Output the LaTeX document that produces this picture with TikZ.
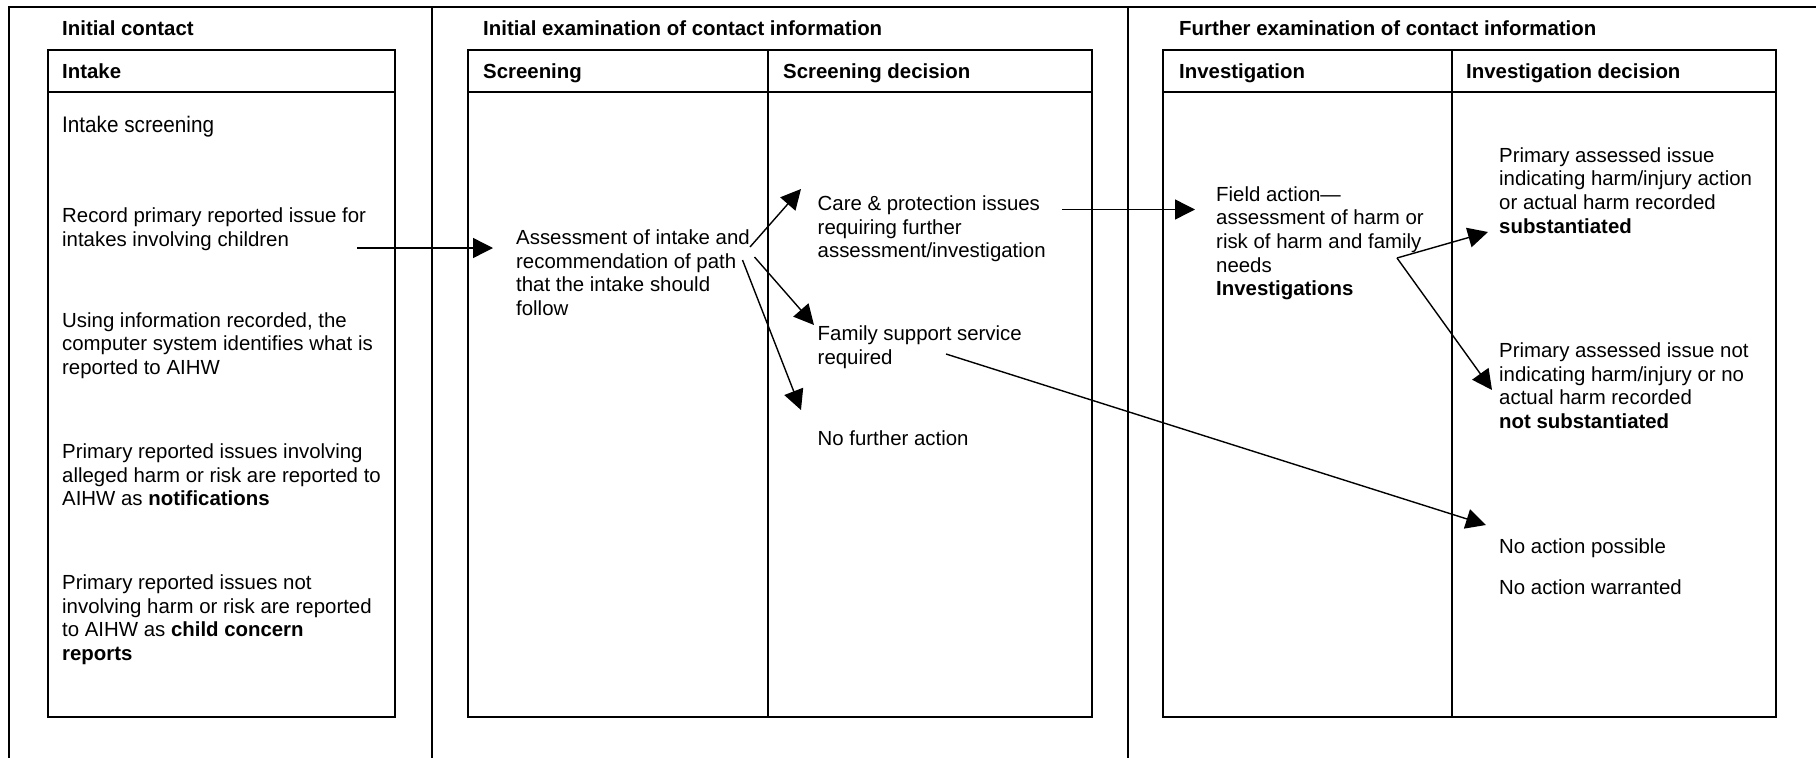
\documentclass[tikz,border=0pt]{standalone}
\usepackage{fontspec}
\setmainfont{Liberation Sans}
\newfontfamily\condensedfont[FakeStretch=0.92]{Liberation Sans}
\usetikzlibrary{arrows.meta}

\begin{document}
\begin{tikzpicture}[x=1pt,y=-1pt,
  frame/.style={line width=2pt},
  % multi-line texts: the base anchor sits on the last line
  txt/.style={inner sep=0pt, anchor=base west, align=left,
              font=\fontsize{20.4pt}{23.7pt}\selectfont},
  head/.style={txt, font=\fontsize{20.4pt}{23.7pt}\selectfont\bfseries},
  flow/.style={line width=1.4pt, -{Triangle[length=20pt,width=20pt]}}]
\useasboundingbox (0,0) rectangle (1816,758);

% stage frame and separators
\draw[frame] (9,758) -- (9,7) -- (1816,7);
\draw[frame] (432,7) -- (432,758);
\draw[frame] (1128,7) -- (1128,758);

% intake table
\draw[frame] (48,50) rectangle (395,717);
\draw[frame] (48,92) -- (395,92);
% screening table
\draw[frame] (468,50) rectangle (1092,717);
\draw[frame] (468,92) -- (1092,92);
\draw[frame] (768,50) -- (768,717);
% investigation table
\draw[frame] (1163,50) rectangle (1776,717);
\draw[frame] (1163,92) -- (1776,92);
\draw[frame] (1452,50) -- (1452,717);

% stage titles and column headings
\node[head] (stage1) at (62,35.5) {Initial contact};
\node[head] (stage2) at (483,35.5) {Initial examination of contact information};
\node[head] (stage3) at (1179,35.5) {Further examination of contact information};
\node[head] (hintake) at (62,78) {Intake};
\node[head] (hscreen) at (483,78) {Screening};
\node[head] (hscrdec) at (783,78) {Screening decision};
\node[head] (hinvest) at (1179,78) {Investigation};
\node[head] (hinvdec) at (1466,78) {Investigation decision};

% intake column
\node[txt, font=\fontsize{22.5pt}{26pt}\condensedfont] (iscreen) at (62,132) {Intake screening};
\node[txt] (record) at (62,246.2) {Record primary reported issue for\\intakes involving children};
\node[txt] (system) at (62,374.4) {Using information recorded, the\\computer system identifies what is\\reported to AIHW};
\node[txt] (notif) at (62,505.9) {Primary reported issues involving\\alleged harm or risk are reported to\\AIHW as \textbf{notifications}};
\node[txt] (ccr) at (62,660.6) {Primary reported issues not\\involving harm or risk are reported\\to AIHW as \textbf{child concern}\\\textbf{reports}};

% screening columns
\node[txt] (assess) at (516,315.6) {Assessment of intake and\\recommendation of path\\that the intake should\\follow};
\node[txt] (care) at (817.5,257.9) {Care \& protection issues\\requiring further\\assessment/investigation};
\node[txt] (family) at (817.5,364.2) {Family support service\\required};
\node[txt] (nofurther) at (817.5,445.5) {No further action};

% investigation columns
\node[txt] (field) at (1216,295.8) {Field action—\\assessment of harm or\\risk of harm and family\\needs\\\textbf{Investigations}};
\node[txt] (subst) at (1499,233.1) {Primary assessed issue\\indicating harm/injury action\\or actual harm recorded\\\textbf{substantiated}};
\node[txt] (notsubst) at (1499,428.6) {Primary assessed issue not\\indicating harm/injury or no\\actual harm recorded\\\textbf{not substantiated}};
\node[txt] (possible) at (1499,553.5) {No action possible};
\node[txt] (warranted) at (1499,594) {No action warranted};

% connector end points
\coordinate (recordout) at (357,248);
\coordinate (assessin) at (493,248);
\coordinate (assessout1) at (750,247);
\coordinate (assessout2) at (754.5,257);
\coordinate (assessout3) at (742.5,260);
\coordinate (carein) at (801,189);
\coordinate (familyin) at (814,325);
\coordinate (nofurtherin) at (801,410);
\coordinate (careout) at (1062,209.5);
\coordinate (fieldin) at (1195,209.5);
\coordinate (fieldout) at (1397,258);
\coordinate (substin) at (1488,232);
\coordinate (notsubstin) at (1492,390);
\coordinate (familyout) at (946,354);
\coordinate (noactionin) at (1486,525);

% flow of an intake
\draw[flow] (recordout) -- (assessin);
\draw[flow] (assessout1) -- (carein);
\draw[flow] (assessout2) -- (familyin);
\draw[flow] (assessout3) -- (nofurtherin);
\draw[flow] (careout) -- (fieldin);
\draw[flow] (fieldout) -- (substin);
\draw[flow] (fieldout) -- (notsubstin);
\draw[flow] (familyout) -- (noactionin);
\end{tikzpicture}
\end{document}
